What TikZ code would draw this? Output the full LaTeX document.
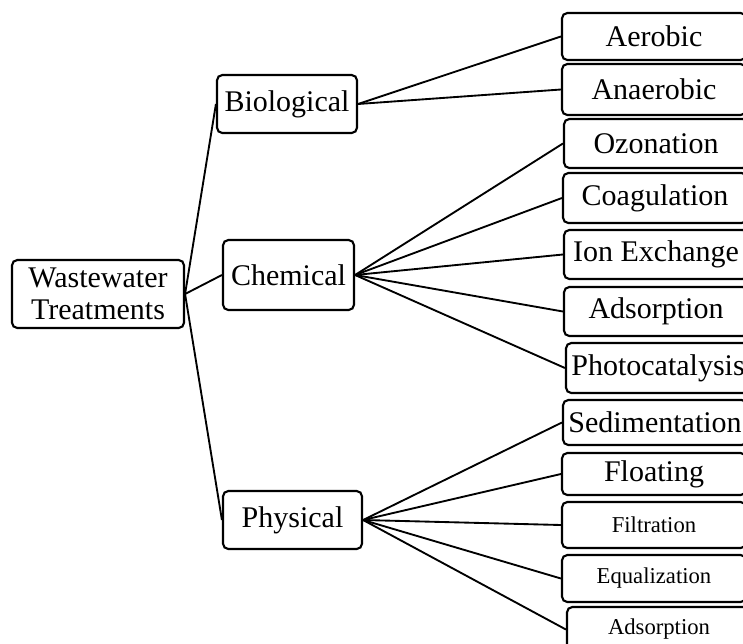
\documentclass[tikz,border=0pt]{standalone}
\usepackage{fontspec}
\setmainfont{Liberation Serif}
\usetikzlibrary{calc}
\tikzset{
  box/.style={draw, line width=1.6pt, rounded corners=4pt, inner sep=0pt, align=center,
    font=\fontsize{22.5}{24}\selectfont},
  leaf/.style={box, minimum width=138pt},
  small/.style={font=\fontsize{17}{19}\selectfont},
  link/.style={line width=1.4pt}
}

\begin{document}
\begin{tikzpicture}[x=0.75pt, y=-0.75pt]
		%%%%% START %%%%%
		\useasboundingbox (0, 0) rectangle (743, 643);
		\clip (0, 0) rectangle (743, 643);
		
		% root and main branches
		\node[box, minimum width=129pt, minimum height=51pt] (root) at (98, 294) {Wastewater\\Treatments};
		\node[box, minimum width=105pt, minimum height=43.5pt] (bio) at (287, 104) {Biological};
		\node[box, minimum width=98.25pt, minimum height=52.5pt] (chem) at (288.5, 275) {Chemical};
		\node[box, minimum width=104.25pt, minimum height=43.5pt] (phys) at (292.5, 520) {Physical};
		
		% biological
		\node[leaf, minimum height=35.25pt] (aero) at (654, 36.5) {Aerobic};
		\node[leaf, minimum height=38.25pt] (anaero) at (654, 89.5) {Anaerobic};
		
		% chemical
		\node[leaf, minimum height=36.75pt] (ozon) at (656, 143.5) {Ozonation};
		\node[leaf, minimum height=37.5pt] (coag) at (655, 198) {Coagulation};
		\node[leaf, minimum height=36.75pt] (ionex) at (656, 254.5) {Ion Exchange};
		\node[leaf, minimum height=36.75pt] (adsA) at (656, 311.5) {Adsorption};
		\node[leaf, minimum height=37.5pt] (photo) at (658, 368) {Photocatalysis};
		
		% physical
		\node[leaf, minimum height=33.75pt] (sedi) at (655, 422.5) {Sedimentation};
		\node[leaf, minimum height=31.5pt] (float) at (654, 474) {Floating};
		\node[leaf, small, minimum height=34.5pt] (filt) at (654, 525) {Filtration};
		\node[leaf, small, minimum height=35.25pt] (equal) at (654, 578.5) {Equalization};
		\node[leaf, small, minimum height=33.75pt] (adsB) at (659, 629.5) {Adsorption};
		
		% connectors
		\foreach \child in {bio, chem, phys}
			\draw[link] (root.east) -- (\child.west);
		\foreach \child in {aero, anaero}
			\draw[link] (bio.east) -- (\child.west);
		\foreach \child in {ozon, coag, ionex, adsA, photo}
			\draw[link] (chem.east) -- (\child.west);
		\foreach \child in {sedi, float, filt, equal, adsB}
			\draw[link] (phys.east) -- (\child.west);
		
		%%%%% END %%%%%
	\end{tikzpicture}
\end{document}
